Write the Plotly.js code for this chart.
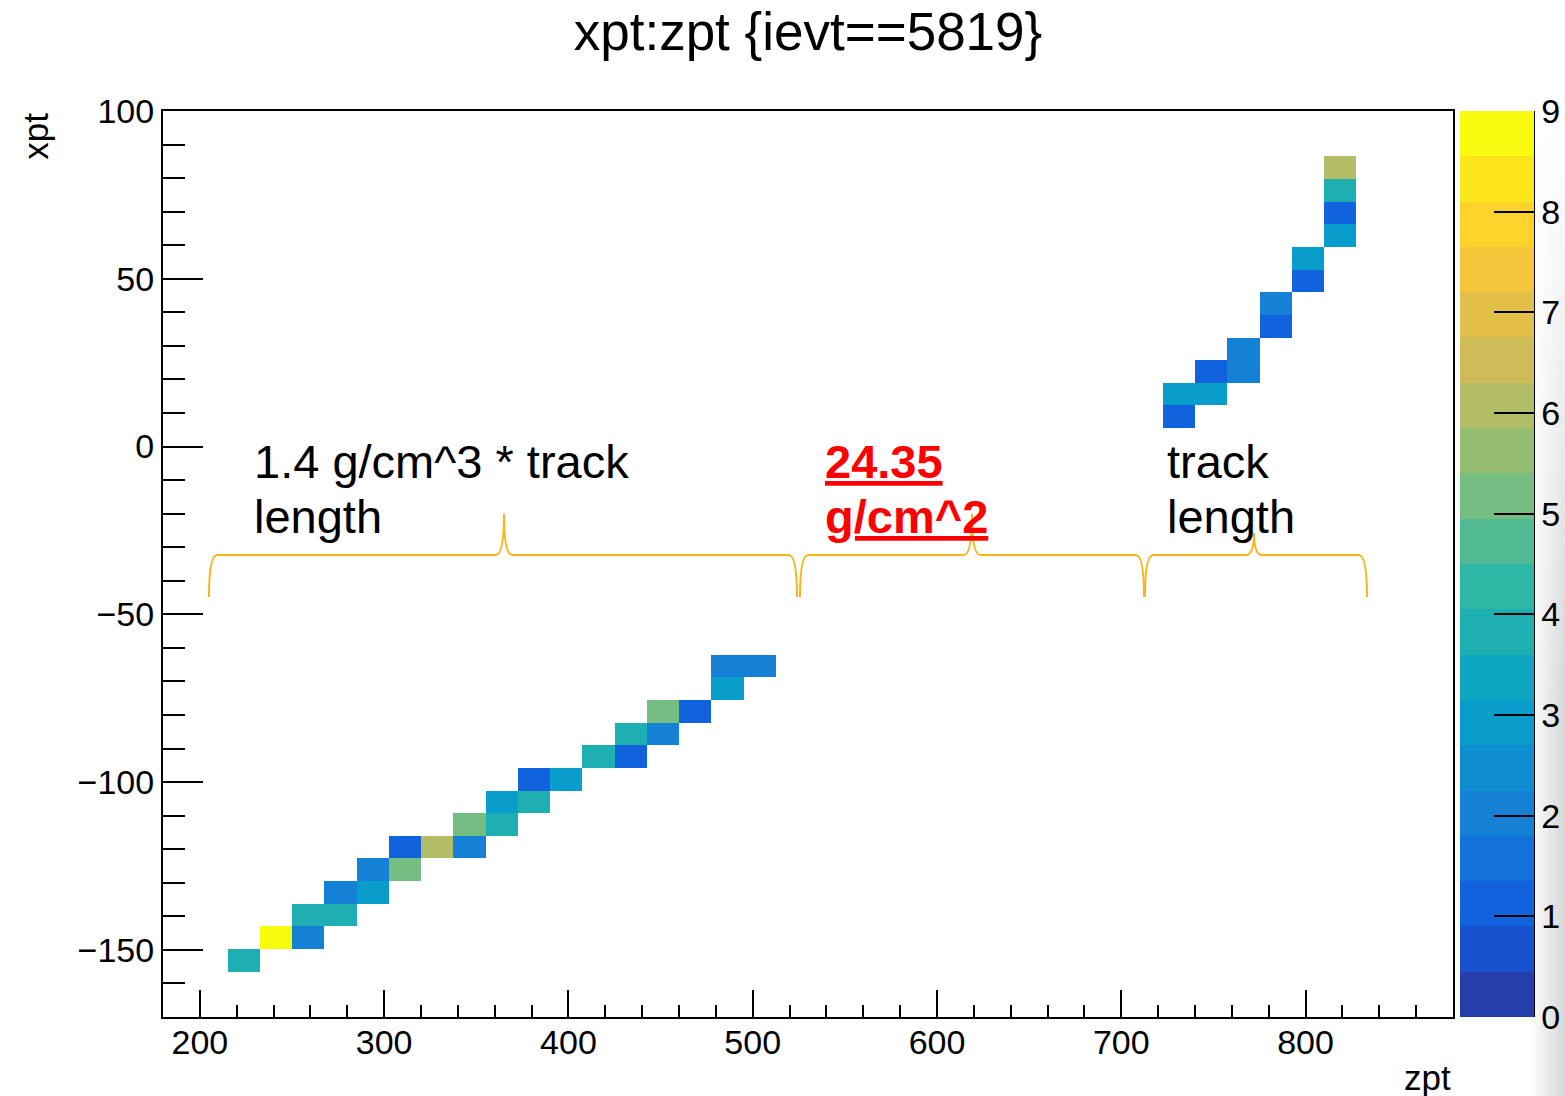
<!DOCTYPE html>
<html>
<head>
<meta charset="utf-8">
<script src="https://cdn.plot.ly/plotly-3.0.1.min.js"></script>
<style>
  html, body { margin: 0; padding: 0; background: #ffffff; }
  #wrap { position: relative; width: 1565px; height: 1096px; overflow: hidden; }
  #shadow { position: absolute; left: 1530px; top: 0; width: 35px; height: 1096px; z-index: 0;
    background: linear-gradient(to right, rgba(0,0,0,0), rgba(0,0,0,0.16));
    -webkit-mask-image: linear-gradient(to bottom, rgba(0,0,0,0) 120px, rgba(0,0,0,1) 700px);
    mask-image: linear-gradient(to bottom, rgba(0,0,0,0) 120px, rgba(0,0,0,1) 700px); }
  #chart { position: absolute; left: 0; top: 0; width: 1565px; height: 1096px; z-index: 1; }
</style>
</head>
<body>
<div id="wrap"><div id="shadow"></div><div id="chart"></div></div>
<script>
// ---- data: filled bins of xpt:zpt {ievt==5819} (bin centres and counts) ----
const zptCenter = [223.75, 241.25, 258.75, 258.75, 276.25, 276.25, 293.75, 293.75, 311.25, 311.25,
  328.75, 346.25, 346.25, 363.75, 363.75, 381.25, 381.25, 398.75, 416.25, 433.75,
  433.75, 451.25, 451.25, 468.75, 486.25, 486.25, 503.75,
  731.25, 731.25, 748.75, 748.75, 766.25, 766.25, 783.75, 783.75, 801.25, 801.25,
  818.75, 818.75, 818.75, 818.75];
const xptCenter = [-153.125, -146.375, -146.375, -139.625, -139.625, -132.875, -132.875, -126.125, -126.125, -119.375,
  -119.375, -119.375, -112.625, -112.625, -105.875, -105.875, -99.125, -99.125, -92.375, -92.375,
  -85.625, -85.625, -78.875, -78.875, -72.125, -65.375, -65.375,
  8.875, 15.625, 15.625, 22.375, 22.375, 29.125, 35.875, 42.625, 49.375, 56.125,
  62.875, 69.625, 76.375, 83.125];
const counts = [4, 9, 2, 4, 4, 2, 3, 2, 5, 1,
  6, 2, 5, 4, 3, 4, 1, 3, 4, 1,
  4, 2, 5, 1, 3, 2, 2,
  1, 3, 3, 1, 2, 2, 1, 2, 1, 3,
  3, 1, 4, 6];

// histogram binning
const zptMin = 180, zptMax = 880, xptMin = -170, xptMax = 100, nBins = 40;
const xTickVals = [200, 300, 400, 500, 600, 700, 800];
const yTickVals = [-150, -100, -50, 0, 50, 100];
const zTickVals = [0, 1, 2, 3, 4, 5, 6, 7, 8, 9];
const zMin = 0, zMax = 9;

// 20-level palette (bottom to top)
const levelColors = ['#263ea9', '#1752cc', '#1063dc', '#1272d9', '#1480d6', '#0e8ed1', '#099dcc', '#0ea7c2',
  '#1eafb3', '#2eb7a4', '#51ba92', '#75bd80', '#96be71', '#b3bd65', '#d0bb59', '#e3c04a',
  '#f5c63a', '#fdd22b', '#fbe61c', '#f9fb0e'];

// ---- build the bin matrix ----
const dxBin = (zptMax - zptMin) / nBins, dyBin = (xptMax - xptMin) / nBins;
const z = [];
for (let j = 0; j < nBins; j++) { z.push(new Array(nBins).fill(null)); }
for (let k = 0; k < counts.length; k++) {
  const i = Math.floor((zptCenter[k] - zptMin) / dxBin);
  const j = Math.floor((xptCenter[k] - xptMin) / dyBin);
  z[j][i] = counts[k];
}
const colorscale = [];
levelColors.forEach((c, k) => {
  colorscale.push([k / levelColors.length, c]);
  colorscale.push([(k + 1) / levelColors.length, c]);
});

const FONT = 'Liberation Sans, Arial, Helvetica, sans-serif';

const trace = {
  type: 'heatmap',
  z: z,
  x0: zptMin + dxBin / 2, dx: dxBin,
  y0: xptMin + dyBin / 2, dy: dyBin,
  zmin: zMin, zmax: zMax,
  colorscale: colorscale,
  zsmooth: false,
  hoverongaps: false,
  colorbar: {
    x: 1.0054, xanchor: 'left', xref: 'paper',
    y: 0.5, yanchor: 'middle', len: 1, lenmode: 'fraction',
    thickness: 74, thicknessmode: 'pixels',
    xpad: 0, ypad: 0,
    outlinewidth: 0,
    tickmode: 'array', tickvals: zTickVals, ticktext: zTickVals.map(String),
    ticks: 'inside', ticklen: 40, tickwidth: 2, tickcolor: '#000',
    tickfont: { family: FONT, size: 34, color: '#000' }
  }
};

// brace helper (overbrace shape) in data coordinates
function bracePath(x0, x1, xm, yb, yh, yt, d) {
  return 'M' + x0 + ',' + yb +
    ' Q' + x0 + ',' + yh + ' ' + (x0 + d) + ',' + yh +
    ' L' + (xm - d) + ',' + yh +
    ' Q' + xm + ',' + yh + ' ' + xm + ',' + yt +
    ' Q' + xm + ',' + yh + ' ' + (xm + d) + ',' + yh +
    ' L' + (x1 - d) + ',' + yh +
    ' Q' + x1 + ',' + yh + ' ' + x1 + ',' + yb;
}
const braceColor = '#fab416';
const braces = [
  [204.96, 524.03, 365.04, -20.10],
  [525.66, 712.33, 618.99, -20.10],
  [712.87, 833.33, 772.02, -25.76]
];
const shapes = braces.map(b => ({
  type: 'path', xref: 'x', yref: 'y',
  path: bracePath(b[0], b[1], b[2], -44.83, -32.32, b[3], 4.5),
  line: { color: braceColor, width: 2 }
}));
// right edge line of the colour bar
shapes.push({ type: 'line', xref: 'paper', yref: 'paper', x0: 1.0628, x1: 1.0628, y0: 0, y1: 1,
  line: { color: '#000', width: 2 } });

const lineFont = { family: FONT, size: 47, color: '#000' };
const redFont = { family: FONT, size: 47, color: '#ff0000' };
function note(text, x, y, font) {
  return { text: text, xref: 'x', yref: 'y', x: x, y: y, xanchor: 'left', yanchor: 'top',
    align: 'left', showarrow: false, font: font };
}
const line1Y = 4.0, line2Y = -12.3;

const layout = {
  width: 1565, height: 1096,
  margin: { l: 163, r: 112, t: 111, b: 79, pad: 0, autoexpand: false },
  paper_bgcolor: 'rgba(0,0,0,0)',
  plot_bgcolor: '#ffffff',
  font: { family: FONT, color: '#000' },
  title: {
    text: 'xpt:zpt {ievt==5819}',
    font: { family: FONT, size: 53, color: '#000' },
    x: 0.5, xref: 'paper', xanchor: 'center',
    y: 0.971, yref: 'container', yanchor: 'middle'
  },
  xaxis: {
    range: [zptMin, zptMax],
    tickmode: 'array', tickvals: xTickVals,
    ticks: 'inside', ticklen: 27, tickwidth: 2, tickcolor: '#000',
    showline: true, linecolor: '#000', linewidth: 2, mirror: true,
    showgrid: false, zeroline: false,
    ticklabelstandoff: -6,
    tickfont: { family: FONT, size: 34, color: '#000' },
    minor: { dtick: 20, tick0: 0, ticks: 'inside', ticklen: 12, tickwidth: 2, tickcolor: '#000', showgrid: false }
  },
  yaxis: {
    range: [xptMin, xptMax],
    tickmode: 'array', tickvals: yTickVals,
    ticks: 'inside', ticklen: 40, tickwidth: 2, tickcolor: '#000',
    showline: true, linecolor: '#000', linewidth: 2, mirror: true,
    showgrid: false, zeroline: false,
    tickfont: { family: FONT, size: 34, color: '#000' },
    minor: { dtick: 10, tick0: 0, ticks: 'inside', ticklen: 22, tickwidth: 2, tickcolor: '#000', showgrid: false }
  },
  shapes: shapes,
  annotations: [
    { text: 'xpt', xref: 'paper', yref: 'paper', x: -0.099, y: 1, xanchor: 'center', yanchor: 'top',
      textangle: -90, showarrow: false, font: { family: FONT, size: 35, color: '#000' } },
    { text: 'zpt', xref: 'paper', yref: 'paper', x: 1, y: -0.067, xanchor: 'right', yanchor: 'middle',
      showarrow: false, font: { family: FONT, size: 35, color: '#000' } },
    note('1.4 g/cm^3 * track', 228.3, line1Y, lineFont),
    note('length', 228.3, line2Y, lineFont),
    note('<b><u>24.35</u></b>', 538.2, line1Y, redFont),
    note('<b><u>g/cm^2</u></b>', 538.2, line2Y, redFont),
    note('track', 723.7, line1Y, lineFont),
    note('length', 723.7, line2Y, lineFont)
  ]
};

Plotly.newPlot('chart', [trace], layout, { displayModeBar: false, staticPlot: true });
</script>
</body>
</html>
